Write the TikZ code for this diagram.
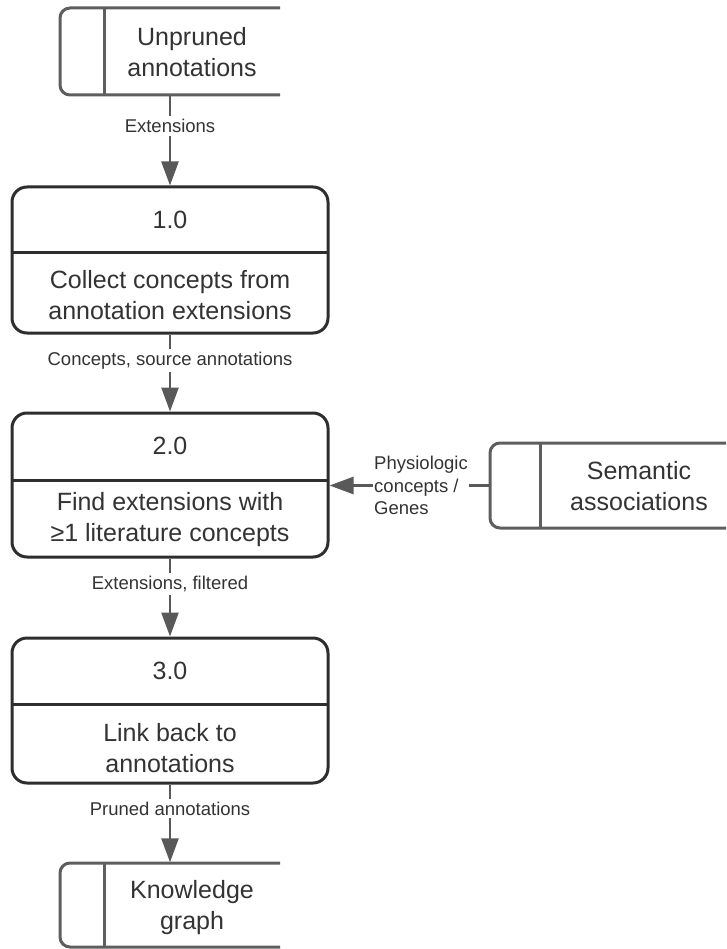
\documentclass[tikz,border=0pt]{standalone}
\usepackage{fontspec}
\setmainfont{Liberation Sans}
\usetikzlibrary{arrows.meta}
\definecolor{boxline}{HTML}{2E2E2E}
\definecolor{storeline}{HTML}{5E5E5E}
\definecolor{flowline}{HTML}{595959}
\definecolor{ink}{HTML}{333333}
\tikzset{
  procbox/.style={draw=boxline, line width=3pt, rounded corners=15pt, fill=white,
    inner sep=0pt, minimum width=316pt},
  storebox/.style={inner sep=0pt},
  storeline/.style={draw=storeline, line width=3pt, rounded corners=10pt},
  bigtext/.style={text=ink, font=\fontsize{25}{31}\selectfont, align=center},
  flowlabel/.style={text=ink, font=\fontsize{18.5}{23}\selectfont, fill=white,
    inner sep=3pt},
  flow/.style={draw=flowline, line width=2.5pt,
    -{Triangle[length=24pt,width=17pt]}, color=flowline},
}
\begin{document}
\begin{tikzpicture}[x=1pt, y=-1pt]
  \useasboundingbox (0,0) rectangle (726,949);
  \clip (0,0) rectangle (726,949);
  \fill[white] (0,0) rectangle (726,949);

  % data store: unpruned annotations
  \node[storebox, minimum width=220pt, minimum height=87pt] (src) at (170,51.5) {};
  \draw[storeline] (280,8) -| (60,95) -- (280,95);
  \draw[draw=storeline, line width=3pt] (104,8) -- (104,95);
  \node[bigtext] (srctxt) at (192,52) {Unpruned\\annotations};

  % process 1.0
  \node[procbox, minimum height=146pt] (p1) at (170,260) {};
  \draw[boxline, line width=3pt] (12,253) -- (328,253);
  \node[bigtext] (p1num) at (170,220) {1.0};
  \node[bigtext] (p1txt) at (170,295) {Collect concepts from\\annotation extensions};

  % process 2.0
  \node[procbox, minimum height=144pt] (p2) at (170,485) {};
  \draw[boxline, line width=3pt] (12,480) -- (328,480);
  \node[bigtext] (p2num) at (170,446) {2.0};
  \node[bigtext] (p2txt) at (170,520) {Find extensions with\\≥1 literature concepts};

  % process 3.0
  \node[procbox, minimum height=145pt] (p3) at (170,710.5) {};
  \draw[boxline, line width=3pt] (12,704) -- (328,704);
  \node[bigtext] (p3num) at (170,671) {3.0};
  \node[bigtext] (p3txt) at (170,748) {Link back to\\annotations};

  % data store: semantic associations
  \node[storebox, minimum width=248pt, minimum height=85pt] (sem) at (614,485.5) {};
  \draw[storeline] (740,443) -| (490,528) -- (740,528);
  \draw[draw=storeline, line width=3pt] (540,443) -- (540,528);
  \node[bigtext] (semtxt) at (639,486) {Semantic\\associations};

  % data store: knowledge graph
  \node[storebox, minimum width=220pt, minimum height=85pt] (kg) at (170,905) {};
  \draw[storeline] (280,863) -| (60,947) -- (280,947);
  \draw[draw=storeline, line width=3pt] (104,863) -- (104,947);
  \node[bigtext] (kgtxt) at (192,908) {Knowledge\\graph};

  % flows
  \draw[flow] (src.south) -- node[flowlabel, pos=0.34] {Extensions} (p1.north);
  \draw[flow] (p1.south) -- node[flowlabel, pos=0.34] {Concepts, source annotations} (p2.north);
  \draw[flow] (p2.south) -- node[flowlabel, pos=0.33] {Extensions, filtered} (p3.north);
  \draw[flow] (p3.south) -- node[flowlabel, pos=0.31] {Pruned annotations} (kg.north);
  \draw[flow] (sem.west) -- node[flowlabel, pos=0.735, anchor=west, align=left,
    inner sep=1pt, font=\fontsize{18.5}{22.5}\selectfont]
    {Physiologic\\concepts /\\Genes} (sem.west -| p2.east);
\end{tikzpicture}
\end{document}
